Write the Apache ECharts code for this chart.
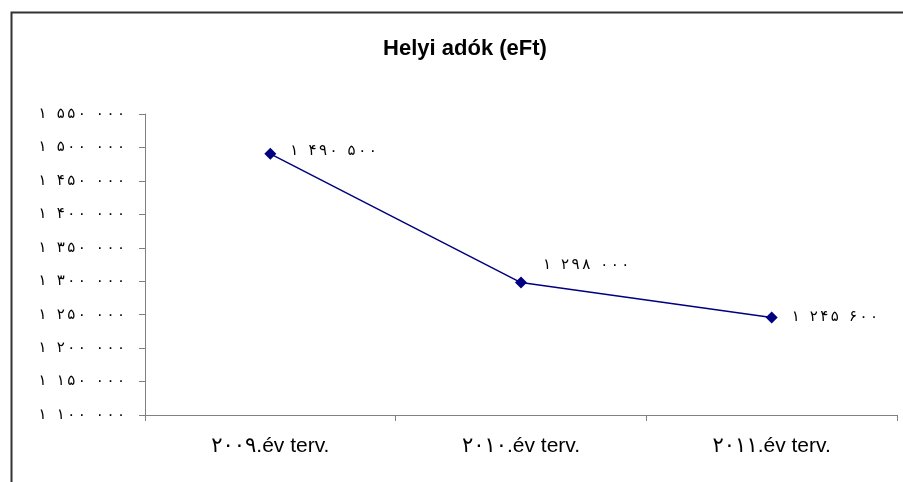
<!DOCTYPE html>
<html>
<head>
<meta charset="utf-8">
<script src="https://cdn.jsdelivr.net/npm/echarts@6/dist/echarts.min.js"></script>
<style>html,body{margin:0;padding:0;background:#fff;}#c{width:903px;height:482px;}</style>
</head>
<body>
<div id="c"></div>
<script>
const titleText = 'Helyi adók (eFt)';
const categories = ['2009.év terv.', '2010.év terv.', '2011.év terv.'];
const values = [1490500, 1298000, 1245600];
const yMin = 1100000, yMax = 1550000, yStep = 50000;
const labelOffsets = [[0, -3], [2, -17], [0, -1]];

const FA = '۰۱۲۳۴۵۶۷۸۹';
function toFa(s) { return String(s).replace(/[0-9]/g, d => FA[+d]); }
function fmtNum(v) {
  const s = String(Math.round(v));
  const groups = [];
  for (let i = s.length; i > 0; i -= 3) groups.unshift(s.slice(Math.max(0, i - 3), i));
  return groups.map(g => toFa(g).split('').join('\u2006')).join('\u2002\u2006');
}

const chart = echarts.init(document.getElementById('c'));
chart.setOption({
  animation: false,
  backgroundColor: '#fff',
  graphic: [{
    type: 'rect', left: 9, top: 10, shape: { width: 1000, height: 600 },
    style: { fill: 'none', stroke: '#333', lineWidth: 2 }, silent: true
  }],
  title: {
    text: titleText, left: 460, top: 33, textAlign: 'center',
    textStyle: { fontFamily: 'Liberation Sans, Arial, sans-serif', fontSize: 22, fontWeight: 'bold', color: '#000' }
  },
  grid: { left: 145, right: 6, top: 114, bottom: 67, containLabel: false },
  xAxis: {
    type: 'category', data: categories, boundaryGap: true,
    axisLine: { lineStyle: { color: '#808080', width: 1 } },
    axisTick: { show: true, length: 6, lineStyle: { color: '#808080' } },
    axisLabel: {
      margin: 21, color: '#000', fontSize: 21,
      fontFamily: 'Liberation Sans, DejaVu Sans, sans-serif',
      formatter: v => toFa(v.split('.')[0]) + '.' + v.split('.').slice(1).join('.')
    },
    splitLine: { show: false }
  },
  yAxis: {
    type: 'value', min: yMin, max: yMax, interval: yStep,
    axisLine: { show: true, lineStyle: { color: '#808080', width: 1 } },
    axisTick: { show: true, length: 6, lineStyle: { color: '#808080' } },
    axisLabel: {
      margin: 20, color: '#000', fontSize: 15,
      fontFamily: 'DejaVu Sans, sans-serif',
      formatter: v => fmtNum(v)
    },
    splitLine: { show: false }
  },
  series: [{
    type: 'line',
    data: values.map((v, i) => ({ value: v, label: { offset: labelOffsets[i] } })),
    symbol: 'diamond', symbolSize: 12,
    lineStyle: { color: '#000080', width: 1.5 },
    itemStyle: { color: '#000080' },
    label: {
      show: true, position: 'right', distance: 14, color: '#000', fontSize: 15,
      fontFamily: 'DejaVu Sans, sans-serif',
      formatter: p => fmtNum(p.value)
    }
  }]
});
</script>
</body>
</html>
